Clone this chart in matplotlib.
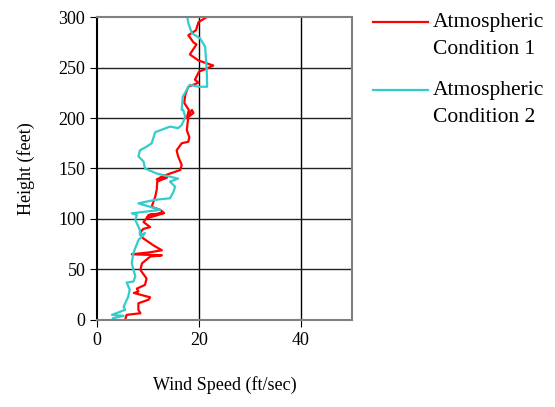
import matplotlib
matplotlib.use("Agg")
import matplotlib.pyplot as plt
from matplotlib.lines import Line2D

plt.rcParams['font.family'] = ['Liberation Serif', 'DejaVu Serif']

# condition 1 (red): wind speed (ft/sec) vs height (feet)
speed1 = [5.5, 5.8, 8.5, 8.1, 8.1, 10.1, 10.4, 7.2, 8.1, 7.8, 9.4, 9.7, 8.5, 8.8,
          10.4, 12.7, 6.8, 10.4, 12.7, 11.0, 9.0, 8.4, 9.0, 10.4, 9.1, 10.3, 13.0,
          9.7, 10.1, 13.1, 12.4, 10.7, 11.4, 11.7, 11.8, 13.7, 11.7, 12.7, 14.3,
          16.3, 16.6, 15.9, 15.6, 16.6, 17.9, 18.1, 17.6, 17.9, 18.9, 18.6, 17.6,
          18.0, 17.1, 17.3, 17.9, 19.9, 19.2, 20.0, 21.5, 22.8, 19.9, 18.2, 19.5,
          18.9, 17.9, 19.4, 19.9, 21.5]
height1 = [0, 5, 6.6, 10, 16.5, 20, 22.4, 26.7, 28, 31, 34.7, 41, 49.5, 56,
           62.7, 64, 65, 67, 69, 74, 81, 86, 90, 92, 97, 104, 105.6,
           100.5, 104, 106, 109, 112, 122, 129, 137, 141, 139, 142, 145,
           148.5, 153.5, 162, 168, 175, 176.5, 181, 188, 201, 205, 208, 200,
           208, 215, 223, 231, 235, 238, 246, 249, 252, 257, 263, 273,
           275, 282, 287, 295, 300]

# condition 2 (cyan)
speed2 = [3.1, 5.2, 2.9, 5.5, 5.2, 6.1, 6.4, 5.8, 7.1, 7.5, 6.8, 7.1, 8.1, 9.4,
          8.4, 8.4, 7.5, 7.8, 6.8, 12.4, 8.1, 11.4, 14.3, 15.0, 15.3, 14.3, 15.9,
          11.7, 9.4, 9.1, 8.1, 8.4, 9.7, 10.7, 11.4, 14.3, 15.9, 16.6, 17.3, 16.9,
          16.6, 16.8, 17.6, 18.2, 19.9, 21.6, 21.5, 21.2, 20.2, 18.6, 17.9, 17.7]
height2 = [1.6, 4, 5, 10, 13, 23, 30, 37, 38, 43, 56, 66, 79, 86,
           84, 89, 99, 104, 105.6, 109, 115.5, 119, 120.5, 127, 132, 137, 140,
           145, 150, 157, 162, 168, 171.6, 175, 186, 191.5, 190, 193, 201, 208,
           208, 221, 228, 233, 231, 231, 249, 270.6, 279, 284, 294, 300]

labels = [('Atmospheric', 'Condition 1'), ('Atmospheric', 'Condition 2')]
colors = ['#ff0000', '#33cccc']

fig = plt.figure(figsize=(5.55, 4.07), dpi=100)
ax = fig.add_axes([0.175, 0.214, 0.459, 0.744])

ax.plot(speed1, height1, color=colors[0], linewidth=1.6)
ax.plot(speed2, height2, color=colors[1], linewidth=1.6)

ax.set_xlim(0, 50)
ax.set_ylim(0, 300)
ax.set_xticks([0, 20, 40])
ax.set_yticks(range(0, 301, 50))
for v in [20, 40]:
    ax.axvline(v, color='black', linewidth=1, zorder=0)
for h in range(50, 300, 50):
    ax.axhline(h, color='#222222', linewidth=1, zorder=0)

for s in ['top', 'right', 'bottom']:
    ax.spines[s].set_color('#808080')
    ax.spines[s].set_linewidth(1.5)
ax.spines['left'].set_color('black')
ax.spines['left'].set_linewidth(1.5)
ax.tick_params(direction='out', length=5, labelsize=13)

ax.set_xlabel('Wind Speed (ft/sec)', fontsize=13, labelpad=20)
ax.set_ylabel('Height (feet)', fontsize=13, labelpad=17)

# legend drawn by hand (outside the axes, two text rows per entry)
W, H = 555.0, 407.0
for i, (lab, c) in enumerate(zip(labels, colors)):
    y0 = [22, 90][i]
    fig.add_artist(Line2D([373 / W, 428 / W], [1 - y0 / H, 1 - y0 / H],
                          color=c, linewidth=1.6))
    fig.text(433 / W, 1 - y0 / H, lab[0], fontsize=15.5, va='center', ha='left')
    fig.text(433 / W, 1 - (y0 + 27) / H, lab[1], fontsize=15.5, va='center', ha='left')

fig.savefig('out.png', dpi=100)
